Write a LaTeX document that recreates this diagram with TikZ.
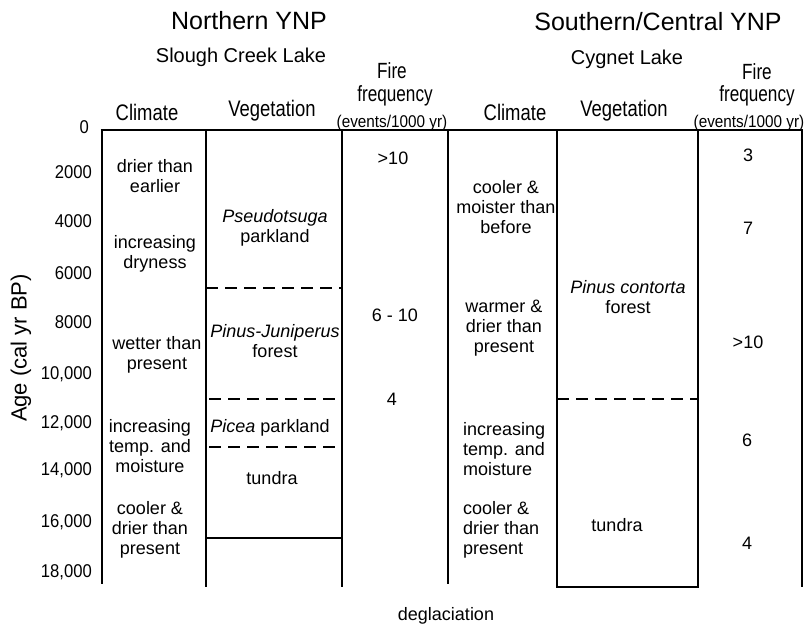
\documentclass[tikz,border=0pt]{standalone}
\usepackage{fontspec}
\setmainfont{Liberation Sans}
\newfontfamily\hdrfont{Liberation Sans}[FakeStretch=0.82]
\newfontfamily\firefont{Liberation Sans}[FakeStretch=0.78]
\newfontfamily\unitfont{Liberation Sans}[FakeStretch=0.9]
\newfontfamily\axfont{Liberation Sans}[FakeStretch=0.9]
\begin{document}
\begin{tikzpicture}[x=1pt,y=-1pt,
  title/.style={font=\fontsize{25}{28}\selectfont, inner sep=0},
  site/.style={font=\fontsize{20}{23}\selectfont, inner sep=0},
  colhdr/.style={font=\hdrfont\fontsize{22.5}{24}\selectfont, inner sep=0},
  firehdr/.style={font=\firefont\fontsize{22}{24}\selectfont, inner sep=0},
  unithdr/.style={font=\unitfont\fontsize{17}{18}\selectfont, inner sep=0},
  body/.style={font=\fontsize{18}{20}\selectfont, align=center, inner sep=0},
  bodyl/.style={font=\fontsize{18}{20}\selectfont, align=left, anchor=west, inner sep=0},
  tick/.style={font=\axfont\fontsize{18.5}{20}\selectfont, anchor=east, inner sep=0},
  thickline/.style={line width=2.8pt},
  colline/.style={line width=2pt},
  divline/.style={line width=1.5pt, dash pattern=on 12pt off 7pt},
]
\useasboundingbox (0,0) rectangle (804,630);

% titles
\node[title] (t1) at (249,21) {Northern YNP};
\node[site] (t2) at (241,57) {Slough Creek Lake};
\node[title] (t3) at (658,22) {Southern/Central YNP};
\node[site] (t4) at (627,59) {Cygnet Lake};

% column headers
\node[colhdr] (h1) at (147,112) {Climate};
\node[colhdr] (h2) at (272,111) {Vegetation};
\node[firehdr] (h3) at (392,71) {Fire};
\node[firehdr] (h4) at (395,96) {frequency};
\node[unithdr] (h5) at (392,123) {(events/1000 yr)};
\node[colhdr] (h6) at (515,112) {Climate};
\node[colhdr] (h7) at (624,111) {Vegetation};
\node[firehdr] (h8) at (757,72) {Fire};
\node[firehdr] (h9) at (757,96) {frequency};
\node[unithdr] (h10) at (749,123) {(events/1000 yr)};

% axis
\node[tick] (a0) at (89,127) {0};
\node[tick] (a1) at (92,172) {2000};
\node[tick] (a2) at (92,221) {4000};
\node[tick] (a3) at (92,273) {6000};
\node[tick] (a4) at (92,322) {8000};
\node[tick] (a5) at (92,374) {10,000};
\node[tick] (a6) at (92,423) {12,000};
\node[tick] (a7) at (92,470) {14,000};
\node[tick] (a8) at (92,522) {16,000};
\node[tick] (a9) at (92,572) {18,000};
\node[font=\fontsize{22}{24}\selectfont, rotate=90, inner sep=0] (age) at (21,348) {Age (cal yr BP)};

% frame lines
\draw[thickline] (100.6,130) -- (803,130);
\draw[thickline] (102,130) -- (102,584);
\draw[colline] (206,130) -- (206,587);
\draw[colline] (342,130) -- (342,587);
\draw[thickline] (448,130) -- (448,584);
\draw[colline] (557,130) -- (557,587);
\draw[colline] (698,130) -- (698,587);
\draw[colline] (802,130) -- (802,587);
\draw[line width=1.5pt] (206,538) -- (342,538);
\draw[colline] (556,587) -- (699,587);

% dashed boundaries
\draw[divline] (206,288) -- (342,288);
\draw[divline] (209,399) -- (341,399);
\draw[divline] (209,447) -- (341,447);
\draw[divline] (557,399) -- (698,399);

% northern climate
\node[body] (lc1) at (155,176) {drier than\\earlier};
\node[body] (lc2) at (155,254) {increasing\\dryness};
\node[body] (lc3) at (157,355) {wetter than\\present};
\node[body] (lc4) at (150,446) {increasing\\temp. and\\moisture};
\node[body] (lc5) at (150,530) {cooler \&\\drier than\\present};

% northern vegetation
\node[body] (v1) at (275,228) {\textit{Pseudotsuga}\\parkland};
\node[body] (v2) at (275,341) {\textit{Pinus-Juniperus}\\forest};
\node[body] (v3) at (270,428) {\textit{Picea} parkland};
\node[body] (v4) at (272,478) {tundra};

% northern fire
\node[body] (f1) at (393,158) {>10};
\node[body] (f2) at (395,315) {6 - 10};
\node[body] (f3) at (392,399) {4};

% southern climate
\node[body] (rc1) at (506,207) {cooler \&\\moister than\\before};
\node[body] (rc2) at (504,328) {warmer \&\\drier than\\present};
\node[bodyl] (rc3) at (463,449) {increasing\\temp. and\\moisture};
\node[bodyl] (rc4) at (463,530) {cooler \&\\drier than\\present};

% southern vegetation
\node[body] (rv1) at (628,297) {\textit{Pinus contorta}\\forest};
\node[body] (rv2) at (617,525) {tundra};

% southern fire
\node[body] (rf1) at (748,155) {3};
\node[body] (rf2) at (748,228) {7};
\node[body] (rf3) at (748,342) {>10};
\node[body] (rf4) at (747,440) {6};
\node[body] (rf5) at (747,543) {4};

\node[body] (deg) at (446,616) {deglaciation};
\end{tikzpicture}
\end{document}
